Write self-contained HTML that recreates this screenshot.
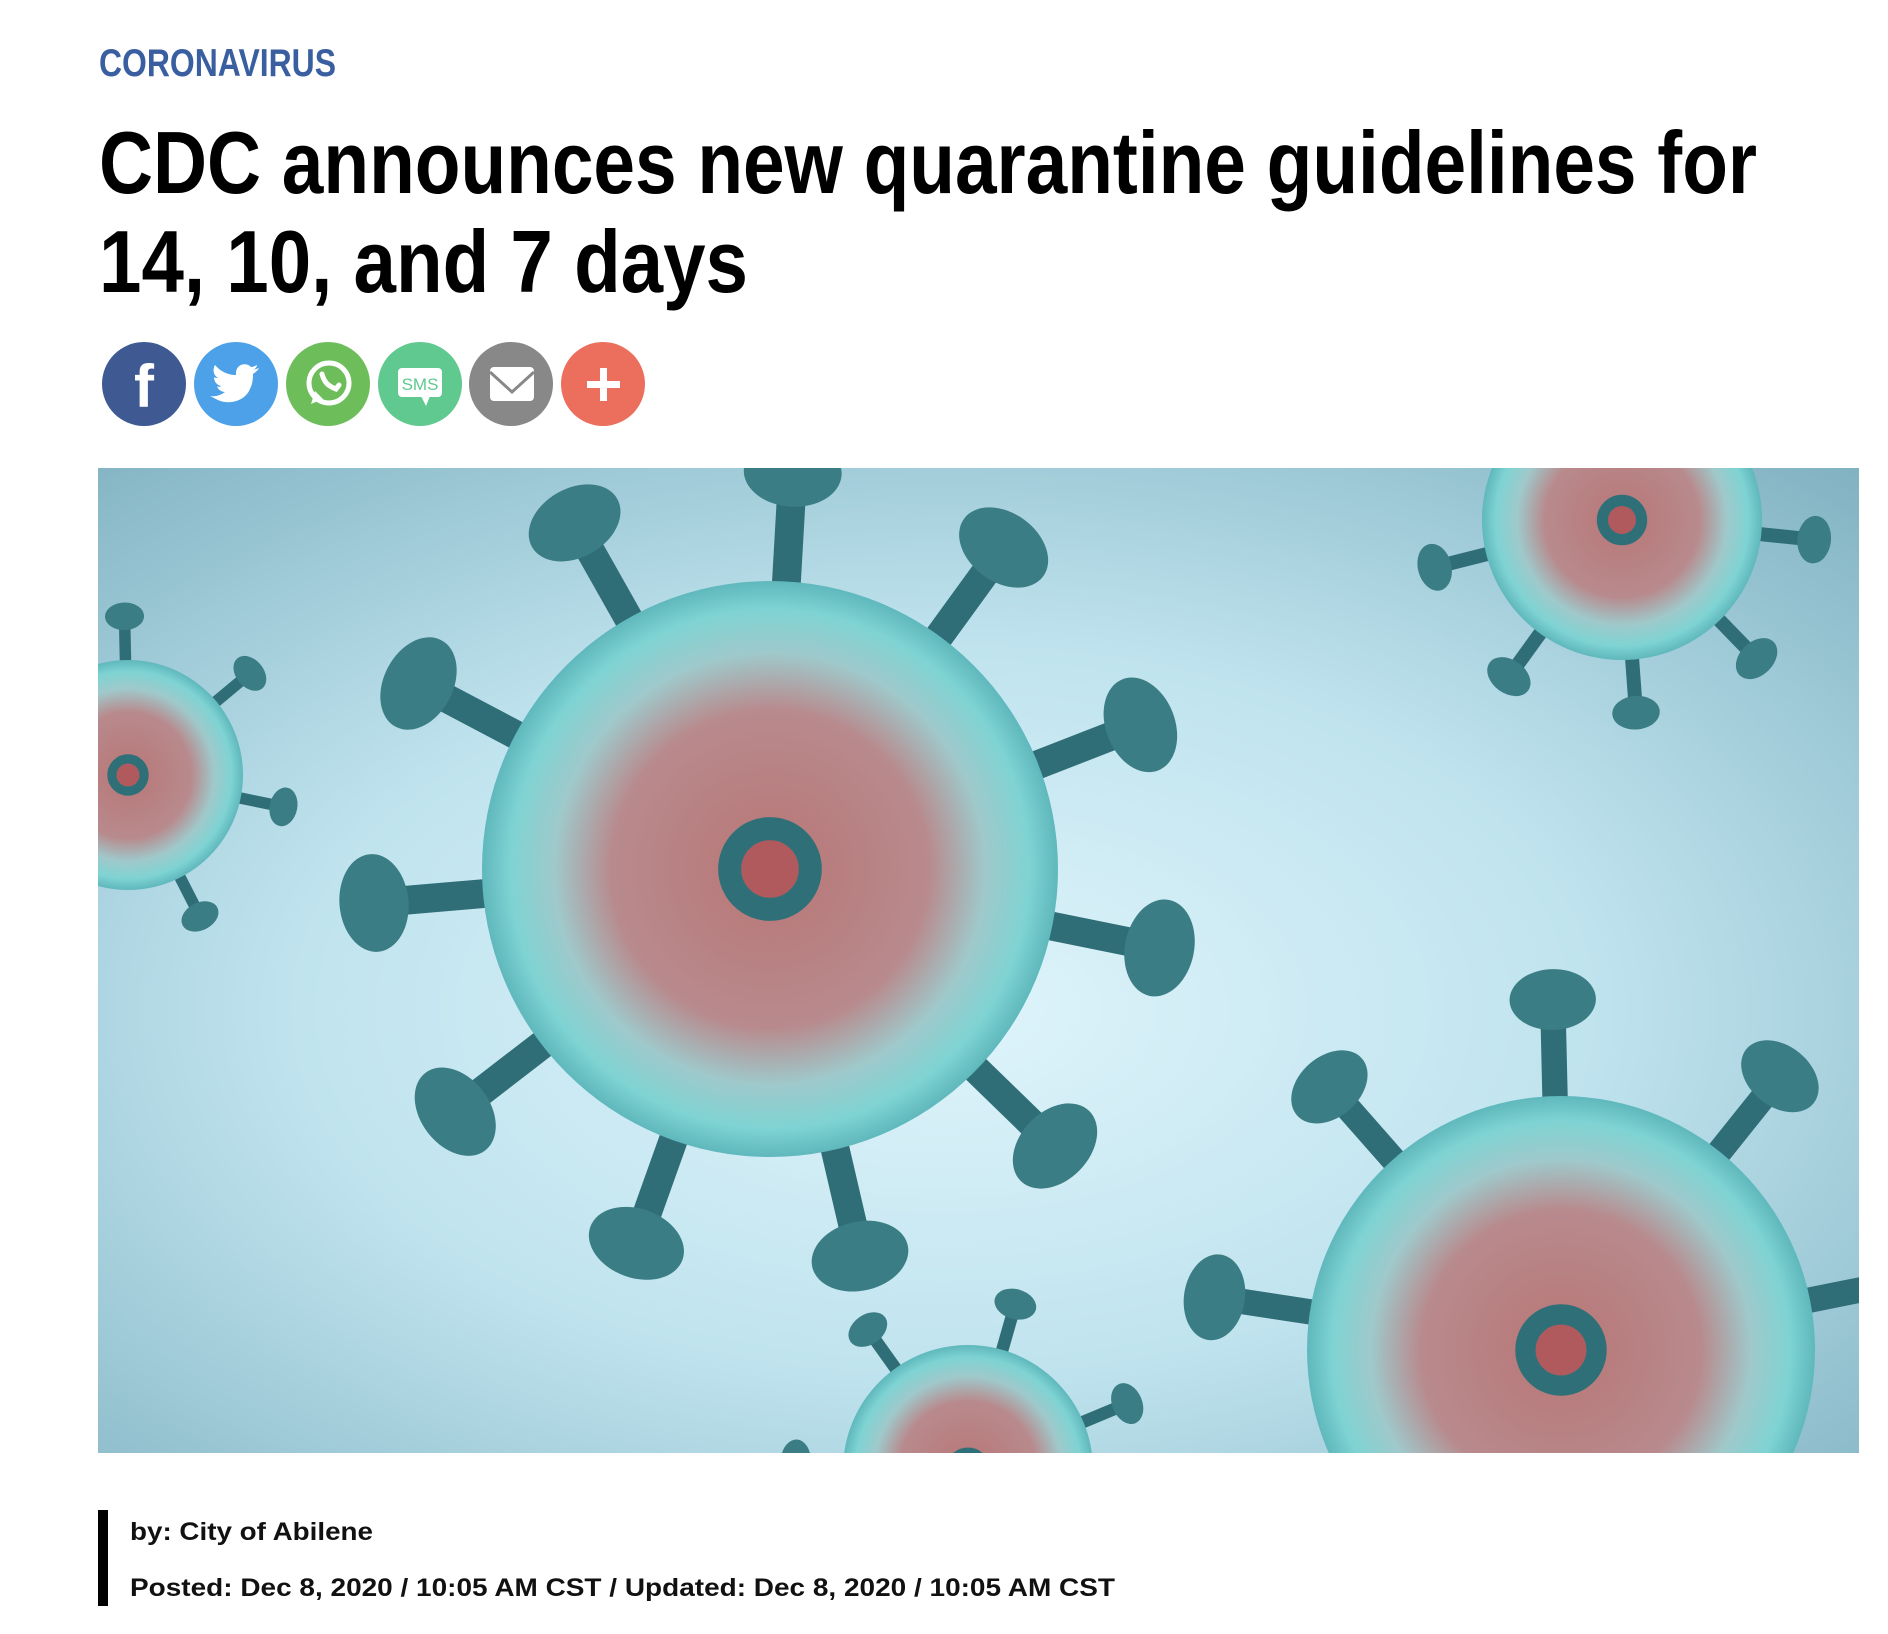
<!DOCTYPE html>
<html><head><meta charset="utf-8"><style>
html,body{margin:0;padding:0;background:#fff;width:1888px;height:1634px;overflow:hidden;}
body{position:relative;font-family:"Liberation Sans Narrow","Liberation Sans",sans-serif;}
svg{position:absolute;left:0;top:0;display:block;}
</style></head><body>
<svg width="1888" height="1634" viewBox="0 0 1888 1634">
<defs>
<radialGradient id="bg" cx="0.48" cy="0.55" r="0.75">
<stop offset="0" stop-color="#dff4fb"/><stop offset="0.5" stop-color="#bfe3ee"/><stop offset="1" stop-color="#82b3c2"/>
</radialGradient>
<radialGradient id="body" cx="0.5" cy="0.5" r="0.5">
<stop offset="0" stop-color="#b97676"/><stop offset="0.55" stop-color="#b88a8d"/><stop offset="0.75" stop-color="#9fc9cb"/><stop offset="0.9" stop-color="#7fd3d3"/><stop offset="1" stop-color="#5fb8bc"/>
</radialGradient>
<clipPath id="imgclip"><rect x="98" y="468" width="1761" height="985"/></clipPath>
</defs>
<a><text x="99" y="76" fill="#3a5fa0" font-weight="bold" font-size="39" textLength="237" lengthAdjust="spacingAndGlyphs">CORONAVIRUS</text></a>
<text x="99" y="193" fill="#000" font-weight="bold" font-size="88" textLength="1658" lengthAdjust="spacingAndGlyphs">CDC announces new quarantine guidelines for</text>
<text x="99" y="292" fill="#000" font-weight="bold" font-size="88" textLength="649" lengthAdjust="spacingAndGlyphs">14, 10, and 7 days</text>

<g><circle cx="144" cy="384" r="42" fill="#3f5a93"/><text x="144" y="407" fill="#fff" font-size="60" font-weight="bold" text-anchor="middle" font-family="Liberation Sans">f</text></g>
<g><circle cx="236" cy="384" r="42" fill="#4ca1e8"/><path d="M216 399c10 6 28 4 34-10 3-6 3-12 3-15 3-2 5-4 6-6-2 1-4 1-6 2 2-1 4-3 4-5-2 1-4 2-6 2-5-5-14-3-15 5 0 1 0 2 0 3-9 0-16-4-21-10-3 5-1 11 3 13-2 0-3 0-4-1 0 5 3 8 7 9-1 1-3 1-4 0 1 4 5 6 8 6-4 3-9 5-15 4z" fill="#fff"/></g>
<g><circle cx="328" cy="384" r="42" fill="#6dbd5a"/><circle cx="329" cy="383" r="20" fill="none" stroke="#fff" stroke-width="5"/><path d="M311 404l4-13 8 8z" fill="#fff"/><path d="M322 374c2 8 6 12 14 15l3-4" fill="none" stroke="#fff" stroke-width="5" stroke-linecap="round"/></g>
<g><circle cx="420" cy="384" r="42" fill="#5fc98f"/><rect x="398" y="368" width="44" height="29" rx="4" fill="#fff"/><path d="M421 396l5 10 4-10z" fill="#fff"/><text x="420" y="390" fill="#5fc98f" font-size="17" text-anchor="middle" font-family="Liberation Sans">SMS</text></g>
<g><circle cx="511" cy="384" r="42" fill="#888"/><rect x="490" y="367" width="44" height="34" rx="4" fill="#fff"/><path d="M490 372l22 20 22-20" fill="none" stroke="#888" stroke-width="3"/></g>
<g><circle cx="603" cy="384" r="42" fill="#ec6f5d"/><rect x="600" y="368" width="7" height="33" fill="#fff"/><rect x="587" y="381" width="33" height="7" fill="#fff"/></g>

<g clip-path="url(#imgclip)">
<rect x="98" y="468" width="1761" height="985" fill="url(#bg)"/>
<g id="viruses"></g>
</g>

<rect x="98" y="1510" width="10" height="96" fill="#000"/>
<text x="130" y="1540" fill="#111" font-weight="bold" font-size="25" textLength="243" lengthAdjust="spacingAndGlyphs">by: City of Abilene</text>
<text x="130" y="1596" fill="#111" font-weight="bold" font-size="25" textLength="985" lengthAdjust="spacingAndGlyphs">Posted: Dec 8, 2020 / 10:05 AM CST / Updated: Dec 8, 2020 / 10:05 AM CST</text>
</svg>
<script>
const NS='http://www.w3.org/2000/svg';
const g=document.getElementById('viruses');
const viruses=[[770,869,288,11],[1561,1350,254,9],[1622,520,140,9],[128,775,115,7],[968,1470,125,7]];
viruses.forEach(function(v,i){
  const cx=v[0],cy=v[1],r=v[2],n=v[3];
  for(let k=0;k<n;k++){
    const a=k*2*Math.PI/n+0.3*i+0.2;
    const x1=cx+Math.cos(a)*r*0.9,y1=cy+Math.sin(a)*r*0.9;
    const x2=cx+Math.cos(a)*r*1.32,y2=cy+Math.sin(a)*r*1.32;
    const l=document.createElementNS(NS,'line');
    
    
    l.setAttribute('x1',x1);l.setAttribute('y1',y1);l.setAttribute('x2',x2);l.setAttribute('y2',y2);
    l.setAttribute('stroke','#2f6e76');l.setAttribute('stroke-width',r*0.1);
    g.appendChild(l);
    const c=document.createElementNS(NS,'ellipse');
    
    
    c.setAttribute('cx',cx+Math.cos(a)*r*1.38);c.setAttribute('cy',cy+Math.sin(a)*r*1.38);
    c.setAttribute('rx',r*0.17);c.setAttribute('ry',r*0.12);
    c.setAttribute('transform','rotate('+(a*180/Math.PI+90)+' '+(cx+Math.cos(a)*r*1.38)+' '+(cy+Math.sin(a)*r*1.38)+')');
    c.setAttribute('fill','#3b7d84');
    g.appendChild(c);
  }
  const b=document.createElementNS(NS,'circle');
  
  
  b.setAttribute('cx',cx);b.setAttribute('cy',cy);b.setAttribute('r',r);
  b.setAttribute('fill','url(#body)');
  g.appendChild(b);
  const o=document.createElementNS(NS,'circle');
  
  
  o.setAttribute('cx',cx);o.setAttribute('cy',cy);o.setAttribute('r',r*0.14);
  o.setAttribute('fill','#b15a5e');o.setAttribute('stroke','#2f7078');o.setAttribute('stroke-width',r*0.08);
  g.appendChild(o);
});
</script>
</body></html>
